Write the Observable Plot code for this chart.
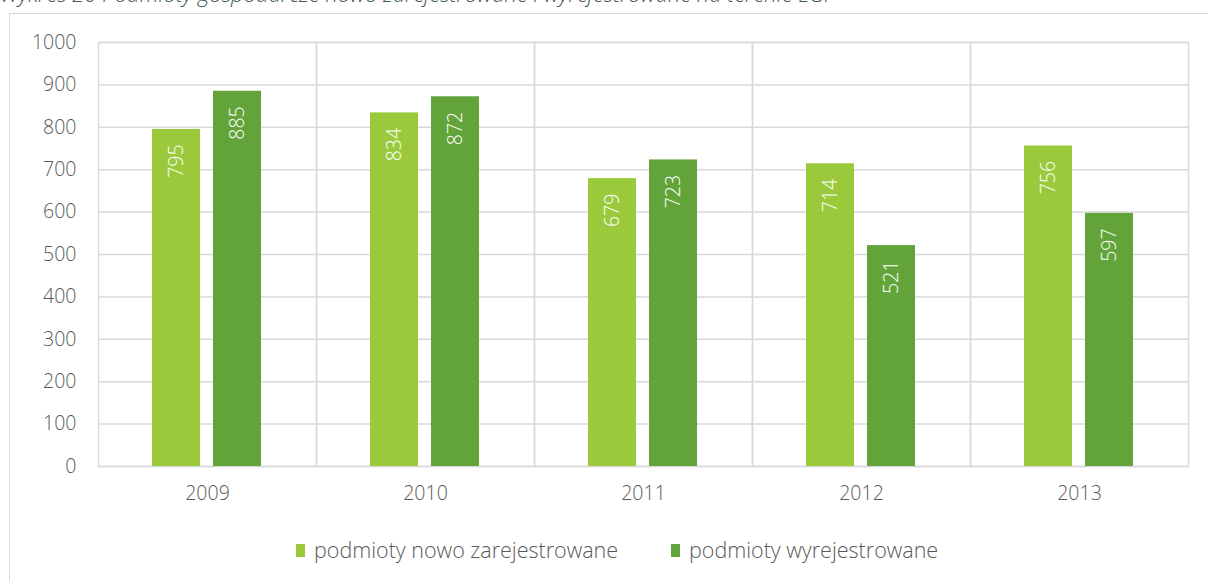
<!DOCTYPE html>
<html>
<head>
<meta charset="utf-8">
<script src="https://cdn.jsdelivr.net/npm/d3@7"></script>
<script src="https://cdn.jsdelivr.net/npm/@observablehq/plot@0.6"></script>
<style>
  html, body { margin: 0; padding: 0; background: #fff; width: 1208px; height: 581px; overflow: hidden; }
  body { position: relative; font-family: "Open Sans", sans-serif; }
  #title { position: absolute; left: 0; top: -20px; font-size: 22px; font-style: italic; font-weight: 300; color: #44594d; white-space: nowrap; line-height: 26px; }
  #box { position: absolute; left: 9px; top: 13px; width: 1210px; height: 580px; border: 1.5px solid #d9d9d9; box-sizing: border-box; }
  #chart { position: absolute; left: 0; top: 0; }
  .leg { position: absolute; top: 535px; display: flex; align-items: center; font-size: 21.5px; font-weight: 300; color: #595959; white-space: nowrap; line-height: 30px; }
  .leg span.sw { display: inline-block; width: 9px; height: 13px; margin-right: 9px; flex: none; }
</style>
</head>
<body>
<div id="title"></div>
<div id="box"></div>
<div id="chart"></div>
<div id="legend"></div>
<script>
const titleText = "Wykres 20 Podmioty gospodarcze nowo zarejestrowane i wyrejestrowane na terenie LGP";
const years = ["2009", "2010", "2011", "2012", "2013"];
const seriesNames = ["podmioty nowo zarejestrowane", "podmioty wyrejestrowane"];
const registered = [795, 834, 679, 714, 756];
const deregistered = [885, 872, 723, 521, 597];
const seriesColors = ["#9ACA3C", "#62A43A"];
const yTicks = [0, 100, 200, 300, 400, 500, 600, 700, 800, 900, 1000];

document.getElementById("title").textContent = titleText;

const data = [];
years.forEach((yr, i) => {
  data.push({year: yr, series: seriesNames[0], value: registered[i]});
  data.push({year: yr, series: seriesNames[1], value: deregistered[i]});
});

const chart = Plot.plot({
  width: 1208,
  height: 520,
  marginLeft: 97,
  marginRight: 19,
  marginTop: 42,
  marginBottom: 54,
  style: {fontFamily: "'Open Sans', sans-serif", fontWeight: 300, fontSize: "19.5px", color: "#595959", background: "transparent", overflow: "visible"},
  fx: {domain: years, padding: 0, label: null},
  x: {domain: seriesNames, paddingInner: 0.21, paddingOuter: 0.866, axis: null},
  y: {domain: [0, 1000], label: null},
  color: {domain: seriesNames, range: seriesColors},
  marks: [
    Plot.gridY(yTicks, {stroke: "#d9d9d9", strokeOpacity: 1, strokeWidth: 1.5}),
    Plot.frame({stroke: "#d9d9d9", strokeWidth: 1.5}),
    Plot.barY(data, {fx: "year", x: "series", y: "value", fill: "series"}),
    Plot.text(data, {fx: "year", x: "series", y: "value", text: d => String(d.value), rotate: -90, textAnchor: "end", lineAnchor: "middle", dy: 15, fill: "white", fontSize: 19.5, fontWeight: 300}),
    Plot.axisY({ticks: yTicks, tickFormat: d => String(d), tickSize: 0, tickPadding: 22, label: null, fontSize: 19.5}),
    Plot.axisFx({anchor: "bottom", tickSize: 0, tickPadding: 20, label: null, fontSize: 19.5})
  ]
});
document.getElementById("chart").appendChild(chart);

const legend = document.getElementById("legend");
const legLefts = [296, 671];
seriesNames.forEach((name, i) => {
  const item = document.createElement("div");
  item.className = "leg";
  item.style.left = legLefts[i] + "px";
  const sw = document.createElement("span");
  sw.className = "sw";
  sw.style.background = seriesColors[i];
  item.appendChild(sw);
  item.appendChild(document.createTextNode(name));
  legend.appendChild(item);
});
</script>
</body>
</html>
